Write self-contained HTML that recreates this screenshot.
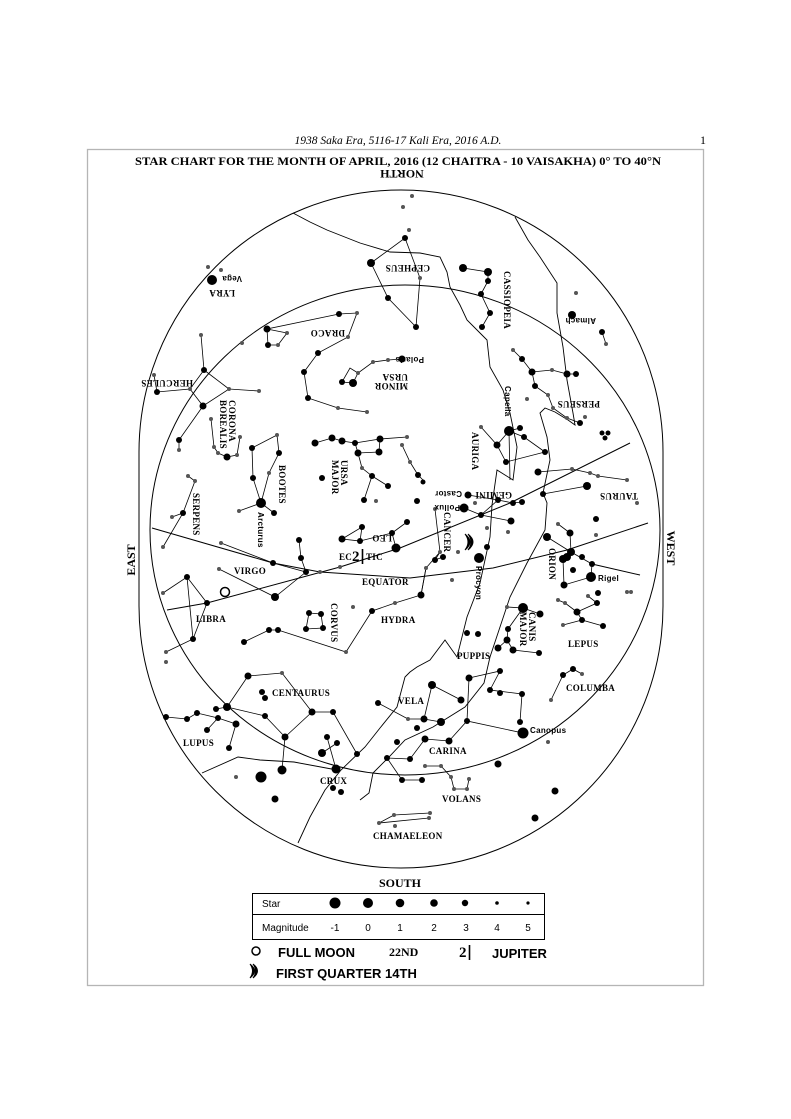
<!DOCTYPE html>
<html><head><meta charset="utf-8"><style>
html,body{margin:0;padding:0;background:#fff;width:791px;height:1119px;overflow:hidden}
svg{display:block}
.t{font-family:"Liberation Serif",serif;font-weight:bold;font-size:9px;fill:#000;letter-spacing:0.3px}
.s{font-family:"Liberation Sans",sans-serif;font-size:8px;fill:#000}
.n{font-family:"Liberation Sans Narrow","Liberation Sans",sans-serif;font-weight:bold;font-size:13px;fill:#000}
</style></head><body>
<svg width="791" height="1119" viewBox="0 0 791 1119" xmlns="http://www.w3.org/2000/svg">
<text x="398" y="144" text-anchor="middle" font-family="Liberation Serif,serif" font-style="italic" font-size="11.5">1938 Saka Era, 5116-17 Kali Era, 2016 A.D.</text>
<text x="700" y="144" font-family="Liberation Serif,serif" font-size="12">1</text>
<rect x="87.5" y="149.5" width="616" height="836" fill="none" stroke="#b5b5b5" stroke-width="1.3"/>
<text x="398" y="165" text-anchor="middle" font-family="Liberation Serif,serif" font-weight="bold" font-size="12" textLength="526" lengthAdjust="spacingAndGlyphs">STAR CHART FOR THE MONTH OF APRIL, 2016 (12 CHAITRA - 10 VAISAKHA) 0° TO 40°N</text>
<text transform="translate(402,170) rotate(180)" text-anchor="middle" font-family="Liberation Serif,serif" font-weight="bold" font-size="12">NORTH</text>

<g fill="none" stroke="#000" stroke-width="1">
<path d="M139,452 A262,262 0 0 1 663,452 L663,606 A262,262 0 0 1 139,606 Z"/>
<ellipse cx="405" cy="530" rx="255" ry="245"/>
<polyline points="152,528 273,563 320,572 410,578 493,568 567,550 648,523"/>
<polyline points="167,610 207,603 340,567 400,548 510,503 630,443"/>
<polyline points="592,564 640,575"/>
</g>
<g fill="none" stroke="#000" stroke-width="0.9">
<polyline points="293,213 310,222 327,230 360,243 390,252 420,253 440,257 447,272 450,287 460,305 467,320 480,333 487,340 490,367 503,390 510,413 517,447 513,480 497,470 492,505 490,537 480,583 467,617 457,657 445,640 430,660 417,667 410,672 405,677 397,707 380,728 365,747 341,770 325,790 310,817 298,843"/>
<polyline points="515,217 528,240 540,257 557,283 557,313 563,347 567,380 573,413 575,425 568,420 555,412 545,408 540,413 547,437 550,460 543,493 547,503 545,530 527,563 510,597 500,627 490,657 484,683 465,707 433,727 405,740 389,757 373,773 369,793 360,800"/>
<polyline points="202,773 238,757 260,760 294,762 337,770"/>
</g>
<g fill="none" stroke="#000" stroke-width="0.8">
<polyline points="371,263 405,238 420,278 416,327 388,298 371,263"/>
<polyline points="463,268 488,272 488,281 481,294 490,313 482,327"/>
<polyline points="367,412 338,408 308,398 304,372 318,353 348,337 357,313 339,314 267,329 268,345 278,345 287,333 267,329"/>
<polyline points="402,359 388,360 373,362 358,373 353,383 342,382 350,368 358,373"/>
<polyline points="201,335 204,370 190,389 157,392 154,375"/>
<polyline points="190,389 203,406 229,389 259,391"/><polyline points="204,370 229,389"/>
<polyline points="203,406 179,440 179,450"/>
<polyline points="211,419 214,447 218,453 227,457 237,455 240,437"/>
<polyline points="239,511 261,503 274,513"/><polyline points="261,503 253,478 252,448 277,435 279,453 269,473 261,503"/>
<polyline points="188,476 195,481 183,513 163,547"/><polyline points="172,517 183,513"/>
<polyline points="315,443 332,438 342,441 355,443 380,439 379,452 358,453 355,443"/>
<polyline points="358,453 362,468 372,476 364,500"/><polyline points="372,476 388,486"/>
<polyline points="380,439 407,437"/><polyline points="402,445 410,462 418,475 423,480"/>
<polyline points="513,350 522,359 532,372 552,370 567,374 576,374"/>
<polyline points="532,372 535,386 548,395 553,408 567,418 580,423"/>
<polyline points="602,332 606,344"/>
<polyline points="509,431 520,428"/><polyline points="509,431 524,437 545,452 506,462 497,445 481,427"/><polyline points="497,445 509,431 510,480"/>
<polyline points="538,472 572,469 590,473 598,476 627,480"/><polyline points="543,494 587,486"/>
<polyline points="468,495 498,500 513,503 522,502"/><polyline points="464,508 481,515 511,521"/><polyline points="481,515 498,500"/>
<polyline points="435,509 440,552 435,560 443,557"/><polyline points="440,552 426,568 421,595"/>
<polyline points="547,537 571,552 570,533 558,524"/><polyline points="571,552 563,559 564,585 591,577 592,564 571,552"/>
<polyline points="558,600 565,603 577,612 597,603 588,596"/><polyline points="577,612 582,620 603,626"/><polyline points="582,620 563,625"/>
<polyline points="507,607 523,608 540,614"/><polyline points="523,608 508,629 507,640 513,650 539,653"/><polyline points="507,640 498,648"/>
<polyline points="221,543 273,563 306,572 301,558 299,540"/><polyline points="306,572 275,597 219,569"/>
<polyline points="163,593 187,577 207,603 193,639 166,652"/><polyline points="187,577 193,639"/>
<polyline points="309,613 321,614 323,628 306,629 309,613"/>
<polyline points="244,642 269,630 278,630 346,652 372,611 395,603 421,595 426,568"/>
<polyline points="342,539 360,541 362,527 342,539"/><polyline points="360,541 392,533 396,548"/><polyline points="392,533 407,522"/>
<polyline points="248,676 282,673 312,712 333,712 357,754"/>
<polyline points="248,676 227,707 265,716 285,737 312,712"/><polyline points="285,737 282,770"/>
<polyline points="227,707 216,709"/><polyline points="166,717 187,719 197,713 218,718 236,724 229,748"/><polyline points="207,730 218,718"/>
<polyline points="327,737 336,769"/><polyline points="322,753 337,743"/>
<polyline points="432,685 461,700"/><polyline points="378,703 408,719 424,719 441,722"/><polyline points="432,685 424,719"/>
<polyline points="387,758 410,759 425,739 449,741 467,721 523,733"/><polyline points="387,758 402,780 422,780"/>
<polyline points="469,678 467,721"/><polyline points="469,678 500,671 490,690 522,694 520,722"/>
<polyline points="551,700 563,675 573,669 582,674"/>
<polyline points="425,766 441,766 451,777 454,789 467,789 469,779"/>
<polyline points="394,815 430,813"/><polyline points="379,823 429,818"/><polyline points="379,823 394,815"/>
</g>
<g fill="#000">
<circle cx="212" cy="280" r="5"/><circle cx="371" cy="263" r="4"/><circle cx="405" cy="238" r="3"/><circle cx="388" cy="298" r="3"/><circle cx="416" cy="327" r="3"/>
<circle cx="267" cy="329" r="3.5"/><circle cx="268" cy="345" r="3"/><circle cx="339" cy="314" r="3"/><circle cx="318" cy="353" r="3"/><circle cx="304" cy="372" r="3"/><circle cx="308" cy="398" r="3"/>
<circle cx="402" cy="359" r="3.5"/><circle cx="353" cy="383" r="4"/><circle cx="342" cy="382" r="3"/>
<circle cx="204" cy="370" r="3"/><circle cx="157" cy="392" r="3"/><circle cx="203" cy="406" r="3.5"/><circle cx="179" cy="440" r="3"/>
<circle cx="227" cy="457" r="3.5"/>
<circle cx="252" cy="448" r="3"/><circle cx="279" cy="453" r="3"/><circle cx="253" cy="478" r="3"/><circle cx="261" cy="503" r="5"/><circle cx="274" cy="513" r="3"/>
<circle cx="183" cy="513" r="3"/>
<circle cx="315" cy="443" r="3.5"/><circle cx="332" cy="438" r="3.5"/><circle cx="342" cy="441" r="3.5"/><circle cx="355" cy="443" r="3"/><circle cx="380" cy="439" r="3.5"/><circle cx="358" cy="453" r="3.5"/><circle cx="379" cy="452" r="3.5"/>
<circle cx="322" cy="478" r="3"/><circle cx="372" cy="476" r="3"/><circle cx="388" cy="486" r="3"/><circle cx="364" cy="500" r="3"/><circle cx="418" cy="475" r="3"/><circle cx="423" cy="482" r="2.5"/>
<circle cx="463" cy="268" r="4"/><circle cx="488" cy="272" r="4"/><circle cx="488" cy="281" r="3"/><circle cx="481" cy="294" r="3"/><circle cx="490" cy="313" r="3"/><circle cx="482" cy="327" r="3"/>
<circle cx="572" cy="315" r="4"/><circle cx="602" cy="332" r="3"/>
<circle cx="522" cy="359" r="3"/><circle cx="532" cy="372" r="3.5"/><circle cx="567" cy="374" r="3.5"/><circle cx="576" cy="374" r="3"/><circle cx="535" cy="386" r="3"/><circle cx="580" cy="423" r="3"/>
<circle cx="602" cy="433" r="2.5"/><circle cx="605" cy="438" r="2.5"/><circle cx="608" cy="433" r="2.5"/>
<circle cx="509" cy="431" r="5"/><circle cx="520" cy="428" r="3"/><circle cx="524" cy="437" r="3"/><circle cx="497" cy="445" r="3.5"/><circle cx="506" cy="462" r="3"/><circle cx="545" cy="452" r="3"/>
<circle cx="538" cy="472" r="3.5"/><circle cx="587" cy="486" r="4"/><circle cx="543" cy="494" r="3"/>
<circle cx="468" cy="495" r="3.5"/><circle cx="464" cy="508" r="4.5"/><circle cx="498" cy="500" r="3"/><circle cx="513" cy="503" r="3"/><circle cx="522" cy="502" r="3"/><circle cx="481" cy="515" r="3"/><circle cx="511" cy="521" r="3.5"/><circle cx="417" cy="501" r="3"/><circle cx="407" cy="522" r="3"/>
<circle cx="435" cy="560" r="3"/><circle cx="443" cy="557" r="3"/><circle cx="421" cy="595" r="3.5"/><circle cx="479" cy="558" r="5"/><circle cx="487" cy="547" r="3"/>
<circle cx="547" cy="537" r="4"/><circle cx="570" cy="533" r="3.5"/><circle cx="571" cy="552" r="4"/><circle cx="567" cy="557" r="4"/><circle cx="563" cy="559" r="4"/><circle cx="582" cy="557" r="3"/><circle cx="573" cy="570" r="3"/><circle cx="591" cy="577" r="5"/><circle cx="564" cy="585" r="3.5"/><circle cx="592" cy="564" r="3"/><circle cx="596" cy="519" r="3"/>
<circle cx="577" cy="612" r="3.5"/><circle cx="597" cy="603" r="3"/><circle cx="582" cy="620" r="3"/><circle cx="603" cy="626" r="3"/>
<circle cx="523" cy="608" r="5"/><circle cx="540" cy="614" r="3.5"/><circle cx="508" cy="629" r="3"/><circle cx="507" cy="640" r="3.5"/><circle cx="513" cy="650" r="3.5"/><circle cx="498" cy="648" r="3.5"/><circle cx="539" cy="653" r="3"/>
<circle cx="467" cy="633" r="3"/><circle cx="478" cy="634" r="3"/>
<circle cx="273" cy="563" r="3"/><circle cx="306" cy="572" r="3"/><circle cx="301" cy="558" r="3"/><circle cx="299" cy="540" r="3"/><circle cx="275" cy="597" r="4"/>
<circle cx="207" cy="603" r="3"/><circle cx="187" cy="577" r="3"/><circle cx="193" cy="639" r="3"/>
<circle cx="309" cy="613" r="3"/><circle cx="321" cy="614" r="3"/><circle cx="306" cy="629" r="3"/><circle cx="323" cy="628" r="3"/>
<circle cx="372" cy="611" r="3"/><circle cx="278" cy="630" r="3"/><circle cx="269" cy="630" r="3"/><circle cx="244" cy="642" r="3"/>
<circle cx="342" cy="539" r="3.5"/><circle cx="360" cy="541" r="3"/><circle cx="362" cy="527" r="3"/><circle cx="392" cy="533" r="3"/><circle cx="396" cy="548" r="4.5"/>
<circle cx="248" cy="676" r="3.5"/><circle cx="262" cy="692" r="3"/><circle cx="265" cy="698" r="3"/><circle cx="227" cy="707" r="4"/><circle cx="216" cy="709" r="3"/><circle cx="265" cy="716" r="3"/><circle cx="285" cy="737" r="3.5"/><circle cx="312" cy="712" r="3.5"/><circle cx="333" cy="712" r="3"/><circle cx="357" cy="754" r="3"/>
<circle cx="261" cy="777" r="5.5"/><circle cx="282" cy="770" r="4.5"/>
<circle cx="166" cy="717" r="3"/><circle cx="187" cy="719" r="3"/><circle cx="197" cy="713" r="3"/><circle cx="218" cy="718" r="3"/><circle cx="207" cy="730" r="3"/><circle cx="236" cy="724" r="3.5"/><circle cx="229" cy="748" r="3"/>
<circle cx="336" cy="769" r="4.5"/><circle cx="322" cy="753" r="4"/><circle cx="327" cy="737" r="3"/><circle cx="337" cy="743" r="3"/><circle cx="333" cy="788" r="3"/><circle cx="341" cy="792" r="3"/>
<circle cx="432" cy="685" r="4"/><circle cx="378" cy="703" r="3"/><circle cx="461" cy="700" r="3.5"/><circle cx="424" cy="719" r="3.5"/><circle cx="441" cy="722" r="4"/><circle cx="417" cy="728" r="3"/><circle cx="467" cy="721" r="3"/>
<circle cx="425" cy="739" r="3.5"/><circle cx="449" cy="741" r="3.5"/><circle cx="410" cy="759" r="3"/><circle cx="387" cy="758" r="3"/><circle cx="397" cy="742" r="3"/><circle cx="402" cy="780" r="3"/><circle cx="422" cy="780" r="3"/>
<circle cx="523" cy="733" r="5.5"/><circle cx="469" cy="678" r="3.5"/><circle cx="500" cy="671" r="3"/><circle cx="490" cy="690" r="3"/><circle cx="500" cy="693" r="3"/><circle cx="522" cy="694" r="3"/><circle cx="520" cy="722" r="3"/>
<circle cx="573" cy="669" r="3"/><circle cx="563" cy="675" r="3"/>
<circle cx="498" cy="764" r="3.5"/><circle cx="555" cy="791" r="3.5"/><circle cx="535" cy="818" r="3.5"/><circle cx="275" cy="799" r="3.5"/><circle cx="598" cy="593" r="3"/>
</g>
<g fill="#555">
<circle cx="208" cy="267" r="2"/><circle cx="221" cy="270" r="2"/><circle cx="409" cy="230" r="2"/><circle cx="420" cy="278" r="2"/><circle cx="403" cy="207" r="2"/><circle cx="412" cy="196" r="2"/>
<circle cx="278" cy="345" r="2"/><circle cx="287" cy="333" r="2"/><circle cx="357" cy="313" r="2"/><circle cx="348" cy="337" r="2"/><circle cx="338" cy="408" r="2"/><circle cx="367" cy="412" r="2"/><circle cx="242" cy="343" r="2"/>
<circle cx="388" cy="360" r="2"/><circle cx="373" cy="362" r="2"/><circle cx="358" cy="373" r="2"/>
<circle cx="201" cy="335" r="2"/><circle cx="190" cy="389" r="2"/><circle cx="154" cy="375" r="2"/><circle cx="229" cy="389" r="2"/><circle cx="259" cy="391" r="2"/><circle cx="179" cy="450" r="2"/>
<circle cx="211" cy="419" r="2"/><circle cx="214" cy="447" r="2"/><circle cx="218" cy="453" r="2"/><circle cx="237" cy="455" r="2"/><circle cx="240" cy="437" r="2"/>
<circle cx="277" cy="435" r="2"/><circle cx="269" cy="473" r="2"/><circle cx="239" cy="511" r="2"/>
<circle cx="188" cy="476" r="2"/><circle cx="195" cy="481" r="2"/><circle cx="172" cy="517" r="2"/><circle cx="163" cy="547" r="2"/>
<circle cx="362" cy="468" r="2"/><circle cx="376" cy="501" r="2"/><circle cx="407" cy="437" r="2"/><circle cx="402" cy="445" r="2"/><circle cx="410" cy="462" r="2"/>
<circle cx="576" cy="293" r="2"/><circle cx="606" cy="344" r="2"/><circle cx="513" cy="350" r="2"/><circle cx="552" cy="370" r="2"/><circle cx="548" cy="395" r="2"/><circle cx="553" cy="408" r="2"/><circle cx="567" cy="418" r="2"/><circle cx="585" cy="417" r="2"/><circle cx="527" cy="399" r="2"/>
<circle cx="481" cy="427" r="2"/><circle cx="572" cy="469" r="2"/><circle cx="590" cy="473" r="2"/><circle cx="598" cy="476" r="2"/><circle cx="627" cy="480" r="2"/><circle cx="637" cy="503" r="2"/>
<circle cx="475" cy="503" r="2"/><circle cx="508" cy="532" r="2"/><circle cx="487" cy="528" r="2"/><circle cx="458" cy="552" r="2"/><circle cx="452" cy="580" r="2"/>
<circle cx="435" cy="509" r="2"/><circle cx="440" cy="552" r="2"/><circle cx="426" cy="568" r="2"/><circle cx="558" cy="524" r="2"/><circle cx="596" cy="535" r="2"/>
<circle cx="558" cy="600" r="2"/><circle cx="565" cy="603" r="2"/><circle cx="588" cy="596" r="2"/><circle cx="563" cy="625" r="2"/><circle cx="627" cy="592" r="2"/><circle cx="631" cy="592" r="2"/><circle cx="507" cy="607" r="2"/>
<circle cx="221" cy="543" r="2"/><circle cx="219" cy="569" r="2"/><circle cx="320" cy="572" r="2"/><circle cx="340" cy="567" r="2"/>
<circle cx="163" cy="593" r="2"/><circle cx="166" cy="652" r="2"/><circle cx="166" cy="662" r="2"/>
<circle cx="353" cy="607" r="2"/><circle cx="395" cy="603" r="2"/><circle cx="346" cy="652" r="2"/>
<circle cx="282" cy="673" r="2"/><circle cx="236" cy="777" r="2"/><circle cx="408" cy="719" r="2"/>
<circle cx="551" cy="700" r="2"/><circle cx="582" cy="674" r="2"/><circle cx="548" cy="742" r="2"/>
<circle cx="425" cy="766" r="2"/><circle cx="441" cy="766" r="2"/><circle cx="451" cy="777" r="2"/><circle cx="469" cy="779" r="2"/><circle cx="454" cy="789" r="2"/><circle cx="467" cy="789" r="2"/>
<circle cx="394" cy="815" r="2"/><circle cx="430" cy="813" r="2"/><circle cx="379" cy="823" r="2"/><circle cx="395" cy="826" r="2"/><circle cx="429" cy="818" r="2"/>
</g>
<g class="t">
<text transform="translate(235,290) rotate(180)">LYRA</text>
<text class="s" transform="translate(242,276) rotate(180)">Vega</text>
<text transform="translate(430,265) rotate(180)">CEPHEUS</text>
<text transform="translate(345,330) rotate(180)">DRACO</text>
<text transform="translate(408,374) rotate(180)">URSA</text>
<text transform="translate(408,383) rotate(180)">MINOR</text>
<text class="s" transform="translate(424,357) rotate(180)">Polaris</text>
<text transform="translate(193,380) rotate(180)">HERCULES</text>
<text transform="translate(229,400) rotate(90)">CORONA</text>
<text transform="translate(220,400) rotate(90)">BOREALIS</text>
<text transform="translate(279,465) rotate(90)">BOOTES</text>
<text class="s" transform="translate(258,512) rotate(90)">Arcturus</text>
<text transform="translate(193,493) rotate(90)">SERPENS</text>
<text transform="translate(341,460) rotate(90)">URSA</text>
<text transform="translate(332,460) rotate(90)">MAJOR</text>
<text transform="translate(504,271) rotate(90)">CASSIOPEIA</text>
<text class="s" transform="translate(596,318) rotate(180)">Almach</text>
<text transform="translate(600,401) rotate(180)">PERSEUS</text>
<text class="s" transform="translate(505,386) rotate(90)">Capella</text>
<text transform="translate(472,432) rotate(90)">AURIGA</text>
<text transform="translate(638,493) rotate(180)">TAURUS</text>
<text transform="translate(512,492) rotate(180)">GEMINI</text>
<text class="s" transform="translate(462,491) rotate(180)">Castor</text>
<text class="s" transform="translate(460,505) rotate(180)">Pollux</text>
<text transform="translate(444,512) rotate(90)">CANCER</text>
<text class="s" transform="translate(476,566) rotate(90)">Procyon</text>
<text transform="translate(549,548) rotate(90)">ORION</text>
<text class="s" x="598" y="581">Rigel</text>
<text x="568" y="647">LEPUS</text>
<text transform="translate(529,612) rotate(90)">CANIS</text>
<text transform="translate(520,612) rotate(90)">MAJOR</text>
<text x="457" y="659">PUPPIS</text>
<text x="566" y="691">COLUMBA</text>
<text x="234" y="574">VIRGO</text>
<text x="196" y="622">LIBRA</text>
<text transform="translate(331,603) rotate(90)">CORVUS</text>
<text x="381" y="623">HYDRA</text>
<text x="362" y="585">EQUATOR</text>
<text x="339" y="560">EC</text><text x="366" y="560">TIC</text>
<text transform="translate(392,535) rotate(180)">LEO</text>
<text x="272" y="696">CENTAURUS</text>
<text x="183" y="746">LUPUS</text>
<text x="320" y="784">CRUX</text>
<text x="398" y="704">VELA</text>
<text x="429" y="754">CARINA</text>
<text class="s" x="530" y="733">Canopus</text>
<text x="442" y="802">VOLANS</text>
<text x="373" y="839">CHAMAELEON</text>
</g>
<!-- Jupiter in chart -->
<text x="352" y="561" font-family="Liberation Serif,serif" font-weight="bold" font-size="15">2</text>
<line x1="362.5" y1="549" x2="362.5" y2="564" stroke="#000" stroke-width="1.6"/>
<!-- crescent moon in chart -->
<path d="M465,534 Q475,542 465,550 Q471,542 465,534 Z M468,534 Q478,542 468,550 Q474,542 468,534 Z" fill="#000" stroke="#000" stroke-width="1"/>
<circle cx="225" cy="592" r="4.5" fill="none" stroke="#000" stroke-width="1.5"/>
<text transform="translate(135,560) rotate(-90)" text-anchor="middle" font-family="Liberation Serif,serif" font-weight="bold" font-size="12">EAST</text>
<text transform="translate(667,548) rotate(90)" text-anchor="middle" font-family="Liberation Serif,serif" font-weight="bold" font-size="12">WEST</text>
<text x="400" y="887" text-anchor="middle" font-family="Liberation Serif,serif" font-weight="bold" font-size="12">SOUTH</text>
<rect x="252.5" y="893.5" width="292" height="46" fill="none" stroke="#000" stroke-width="1"/>
<line x1="252.5" y1="914.5" x2="544.5" y2="914.5" stroke="#000"/>
<text x="262" y="907" font-family="Liberation Sans,sans-serif" font-size="10">Star</text>
<text x="262" y="931" font-family="Liberation Sans,sans-serif" font-size="10">Magnitude</text>
<g fill="#000"><circle cx="335" cy="903" r="5.5"/><circle cx="368" cy="903" r="5"/><circle cx="400" cy="903" r="4.3"/><circle cx="434" cy="903" r="3.8"/><circle cx="465" cy="903" r="3.2"/><circle cx="497" cy="903" r="1.8"/><circle cx="528" cy="903" r="1.6"/></g>
<g font-family="Liberation Sans,sans-serif" font-size="10" text-anchor="middle"><text x="335" y="931">-1</text><text x="368" y="931">0</text><text x="400" y="931">1</text><text x="434" y="931">2</text><text x="466" y="931">3</text><text x="497" y="931">4</text><text x="528" y="931">5</text></g>
<circle cx="256" cy="951" r="4" fill="none" stroke="#000" stroke-width="1.5"/>
<text class="n" x="278" y="957">FULL  MOON</text>
<text x="389" y="956" font-family="Liberation Serif,serif" font-weight="bold" font-size="12">22ND</text>
<text x="459" y="957" font-family="Liberation Serif,serif" font-weight="bold" font-size="15">2</text>
<line x1="469.5" y1="945" x2="469.5" y2="960" stroke="#000" stroke-width="1.6"/>
<text class="n" x="492" y="958">JUPITER</text>
<path d="M250,964 Q259,971 250,978 Q255,971 250,964 Z M253,964 Q262,971 253,978 Q258,971 253,964 Z" fill="#000" stroke="#000" stroke-width="1"/>
<text class="n" x="276" y="978">FIRST QUARTER  14TH</text>
</svg>
</body></html>
